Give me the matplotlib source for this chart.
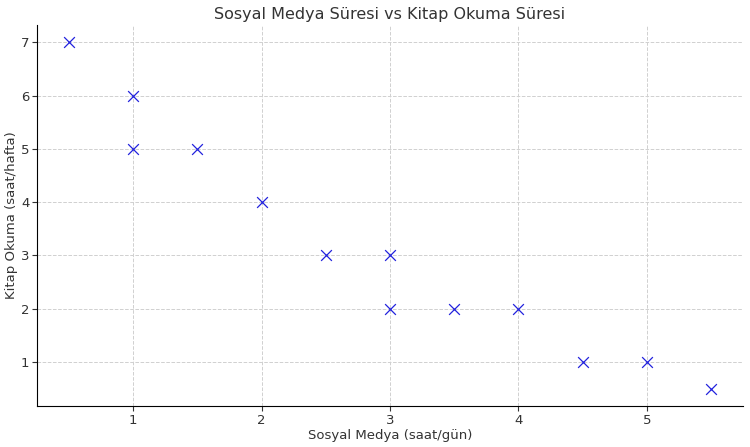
import matplotlib
matplotlib.use("Agg")
import matplotlib.pyplot as plt

social = [0.5, 1, 1, 1.5, 2, 2.5, 3, 3, 3.5, 4, 4.5, 5, 5.5]
reading = [7, 6, 5, 5, 4, 3, 3, 2, 2, 2, 1, 1, 0.5]

fig = plt.figure(figsize=(7.5, 4.47), dpi=100)
ax = fig.add_axes([37/750, 41/447, 706/750, 381/447])
ax.scatter(social, reading, marker='x', color='#2222dd', s=60, linewidths=0.9)
ax.set_title("Sosyal Medya Süresi vs Kitap Okuma Süresi", fontsize=11.5, color='#333333', pad=4)
ax.set_xlabel("Sosyal Medya (saat/gün)", fontsize=9.5, color='#333333', labelpad=2)
ax.set_ylabel("Kitap Okuma (saat/hafta)", fontsize=9.5, color='#333333', labelpad=2)
ax.grid(True, linestyle='--', color='#d0d0d0', linewidth=0.7)
ax.set_axisbelow(True)
for s in ['top', 'right']:
    ax.spines[s].set_visible(False)
ax.tick_params(labelsize=9.5, colors='#333333', pad=2)
fig.savefig("out.png", dpi=100)
